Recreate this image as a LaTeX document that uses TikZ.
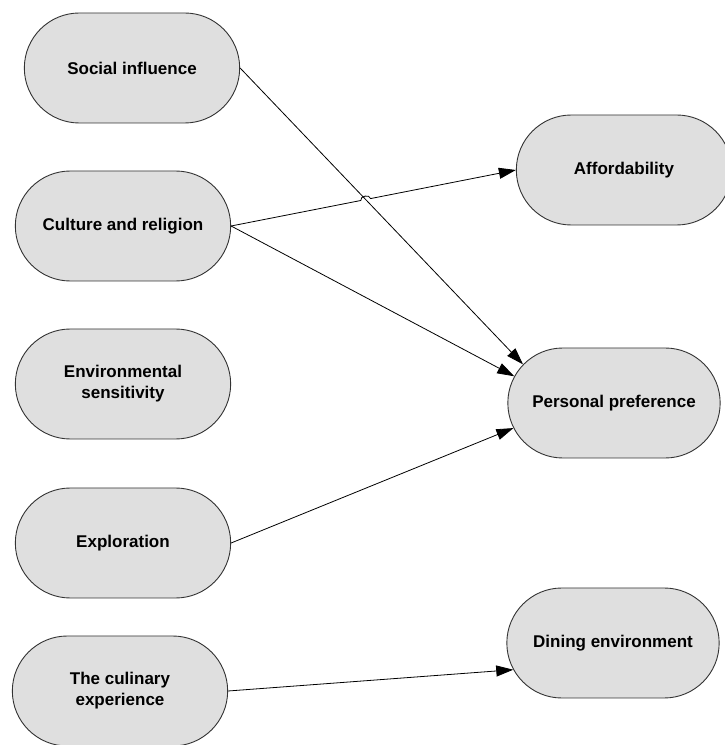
\documentclass[tikz,border=0pt]{standalone}
\usepackage{fontspec}
\setmainfont{Liberation Sans}
\usetikzlibrary{arrows.meta,calc,intersections,shapes.misc}

\begin{document}
\begin{tikzpicture}[x=1pt, y=1pt, main/.style = {draw=black!80, fill=gray!25, line width=0.9pt, rounded rectangle, minimum width=222pt, minimum height=110pt, align=center, font=\bfseries\fontsize{17}{21}\selectfont}, link/.style = {-{Triangle[length=17pt,width=11pt]}, line width=0.8pt}]
      \useasboundingbox (0,0) rectangle (724,745);
      \node[main] (1) at (132,677) {Social influence};
      \node[main] (2) at (123,519) {Culture and religion};
      \node[main] (3) at (123,361) {Environmental\\sensitivity};
      \node[main] (4) at (123,202) {Exploration};
      \node[main] (5) at (120,54) {The culinary\\experience};
      \node[main] (6) at (624,575) {Affordability};
      \node[main, minimum width=219pt] (7) at (614,342) {Personal preference};
      \node[main, minimum width=219pt] (8) at (613,102) {Dining environment};

      \path[link]
      (1.east) edge (7.157)
      (2.east) edge (7.165)
      (4.east) edge (7.194)
      (5.east) edge (8.195);

      % line hop where the two links cross
      \path[name path=s] (1.east) -- (7.157);
      \path[name path=c] (2.east) -- (6.west);
      \path[name intersections={of=s and c, by=hop}];
      \draw[link] (2.east) -- ($(hop)!5pt!(2.east)$) to[bend left=90, looseness=1.2] ($(hop)!5pt!(6.west)$) -- (6.west);
    \end{tikzpicture}
\end{document}
